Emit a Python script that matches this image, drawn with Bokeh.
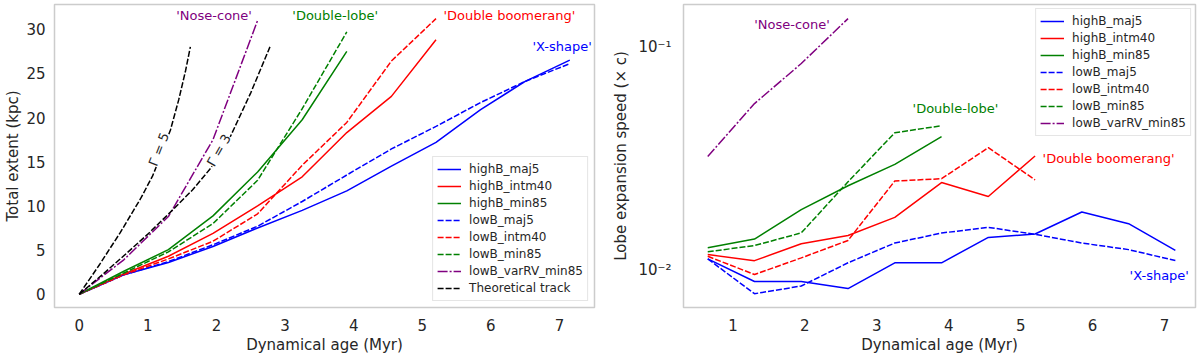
from bokeh.plotting import figure
from bokeh.layouts import row
from bokeh.models import Legend, LegendItem, FixedTicker, CustomJSTickFormatter, Range1d
from bokeh.core.properties import value
from bokeh.embed import file_html
from bokeh.resources import INLINE

# ---------------- data: left panel (total extent, kpc) ----------------
age = [0, 0.65, 1.3, 1.95, 2.6, 3.25, 3.9, 4.55, 5.2, 5.85, 6.5, 7.15]
ext_highB_maj5 = [0, 2.2, 3.6, 5.4, 7.5, 9.5, 11.7, 14.5, 17.2, 20.9, 24.1, 26.5]
ext_lowB_maj5 = [0, 2.2, 3.7, 5.6, 7.7, 10.5, 13.5, 16.45, 19.0, 21.7, 24.1, 26.1]
ext_highB_intm40 = [0, 2.3, 4.3, 6.9, 10.0, 13.3, 18.3, 22.4, 28.8]
ext_lowB_intm40 = [0, 2.2, 4.0, 6.0, 9.1, 14.6, 19.45, 26.4, 31.2]
ext_highB_min85 = [0, 2.6, 5.05, 8.87, 13.84, 19.75, 27.5]
ext_lowB_min85 = [0, 2.4, 4.8, 8.0, 12.9, 21.0, 29.7]
ext_lowB_varRV_min85 = [0, 3.9, 8.8, 17.5, 31.0]

track_g5_t = [0, 0.3, 0.6, 0.9, 1.07, 1.2, 1.33, 1.45, 1.55, 1.62]
track_g5_ext = [0, 3.4, 7.0, 10.9, 13.4, 15.9, 18.6, 22.0, 25.3, 28.0]
track_g3_t = [0, 0.35, 0.7, 1.0, 1.33, 1.65, 1.92, 2.2, 2.5, 2.78]
track_g3_ext = [0, 2.3, 4.7, 6.8, 9.3, 11.8, 14.3, 17.8, 22.8, 28.0]

# ---------------- data: right panel (lobe expansion speed, x c) ----------------
age_v = [0.65, 1.3, 1.95, 2.6, 3.25, 3.9, 4.55, 5.2, 5.85, 6.5, 7.15]
v_highB_maj5 = [0.01124, 0.0089, 0.0089, 0.00828, 0.0108, 0.0108, 0.01403, 0.01453, 0.01824, 0.01616, 0.01228]
v_lowB_maj5 = [0.01124, 0.00785, 0.0085, 0.0108, 0.01324, 0.01468, 0.01556, 0.01449, 0.01324, 0.01237, 0.01105]
v_highB_intm40 = [0.01175, 0.01104, 0.01315, 0.0143, 0.01726, 0.0247, 0.0214, 0.0325]
v_lowB_intm40 = [0.01155, 0.00957, 0.01136, 0.0136, 0.0251, 0.0257, 0.0354, 0.0254]
v_highB_min85 = [0.0126, 0.0138, 0.0187, 0.0239, 0.0298, 0.0397]
v_lowB_min85 = [0.0121, 0.0129, 0.0147, 0.0249, 0.0413, 0.0444]
v_lowB_varRV_min85 = [0.0323, 0.0558, 0.0843, 0.134]

labels = ["highB_maj5", "highB_intm40", "highB_min85", "lowB_maj5",
          "lowB_intm40", "lowB_min85", "lowB_varRV_min85"]
colors = ["blue", "red", "green", "blue", "red", "green", "purple"]
dashes = ["solid", "solid", "solid", "6 2", "6 2", "6 2", "10 2 2 2"]

FONT = "DejaVu Sans"
FRAME = "#cccccc"


def style(p, ystand):
    p.outline_line_color = FRAME
    p.outline_line_width = 1.5
    p.xgrid.visible = False
    p.ygrid.visible = False
    for ax in (p.xaxis[0], p.yaxis[0]):
        ax.axis_line_color = None
        ax.major_tick_line_color = None
        ax.minor_tick_line_color = None
        ax.major_tick_out = 0
        ax.major_tick_in = 0
        ax.major_label_text_font = FONT
        ax.major_label_text_font_size = "15px"
        ax.major_label_text_color = "#262626"
        ax.axis_label_text_font = FONT
        ax.axis_label_text_font_size = "15px"
        ax.axis_label_text_font_style = "normal"
        ax.axis_label_text_color = "#262626"
        ax.major_label_standoff = 11
        ax.axis_label_standoff = 2
    p.yaxis[0].major_label_standoff = ystand
    p.yaxis[0].axis_label_standoff = 1


def make_legend(items, loc, margin):
    lg = Legend(items=items, location=loc, margin=margin)
    lg.label_text_font = FONT
    lg.label_text_font_size = "12px"
    lg.label_text_color = "#262626"
    lg.label_height = 16
    lg.glyph_height = 16
    lg.glyph_width = 24
    lg.spacing = 1
    lg.padding = 4
    lg.label_standoff = 8
    lg.border_line_color = FRAME
    lg.border_line_width = 1
    lg.background_fill_color = "white"
    lg.background_fill_alpha = 0.85
    return lg


# ---------------- left panel ----------------
p1 = figure(width=600, height=358, output_backend="svg", toolbar_location=None,
            x_range=Range1d(-0.36, 7.51), y_range=Range1d(-1.5, 32.8),
            min_border_left=54, min_border_right=6, min_border_top=1, min_border_bottom=51)
style(p1, 9)
p1.xaxis.ticker = FixedTicker(ticks=[0, 1, 2, 3, 4, 5, 6, 7])
p1.yaxis.ticker = FixedTicker(ticks=[0, 5, 10, 15, 20, 25, 30])
p1.xaxis.axis_label = "Dynamical age (Myr)"
p1.yaxis.axis_label = "Total extent (kpc)"

ext_series = [ext_highB_maj5, ext_highB_intm40, ext_highB_min85, ext_lowB_maj5,
              ext_lowB_intm40, ext_lowB_min85, ext_lowB_varRV_min85]
rend1 = []
for lab, ys, c, d in zip(labels, ext_series, colors, dashes):
    r = p1.line(age[:len(ys)], ys, line_color=c, line_width=1.5, line_dash=d)
    rend1.append((lab, r))
r_g5 = p1.line(track_g5_t, track_g5_ext, line_color="black", line_width=1.5, line_dash="6 2")
r_g3 = p1.line(track_g3_t, track_g3_ext, line_color="black", line_width=1.5, line_dash="6 2")
rend1.append(("Theoretical track", r_g5))

p1.text(x=[1.161], y=[16.4], text=["Γ = 5"], angle=1.2, text_align="center",
        text_baseline="middle", text_font=value(FONT), text_font_size="13px",
        text_color="#262626", background_fill_color="white")
p1.text(x=[2.036], y=[16.3], text=["Γ = 3"], angle=1.05, text_align="center",
        text_baseline="middle", text_font=value(FONT), text_font_size="13px",
        text_color="#262626", background_fill_color="white")

ann1_x = [1.415, 3.106, 5.308, 6.606]
ann1_y = [31.6, 31.6, 31.6, 28.06]
ann_text = ["'Nose-cone'", "'Double-lobe'", "'Double boomerang'", "'X-shape'"]
ann_col = ["purple", "green", "red", "blue"]
p1.text(x=ann1_x, y=ann1_y, text=ann_text, text_color=ann_col, text_align="left",
        text_baseline="middle", text_font=value(FONT), text_font_size="13px")

p1.add_layout(make_legend([LegendItem(label=l, renderers=[r]) for l, r in rend1],
                          "bottom_right", 6), "center")

# ---------------- right panel ----------------
p2 = figure(width=600, height=358, output_backend="svg", toolbar_location=None,
            y_axis_type="log",
            x_range=Range1d(0.313, 7.43), y_range=Range1d(0.00681, 0.155),
            min_border_left=83, min_border_right=5, min_border_top=4, min_border_bottom=50)
style(p2, 12)
p2.xaxis.ticker = FixedTicker(ticks=[1, 2, 3, 4, 5, 6, 7])
p2.yaxis.ticker = FixedTicker(ticks=[0.01, 0.1], minor_ticks=[])
p2.yaxis.formatter = CustomJSTickFormatter(code="return tick < 0.05 ? '10\u207b\u00b2' : '10\u207b\u00b9';")
p2.xaxis.axis_label = "Dynamical age (Myr)"
p2.yaxis.axis_label = "Lobe expansion speed (× c)"
p2.yaxis[0].axis_label_standoff = 5

v_series = [v_highB_maj5, v_highB_intm40, v_highB_min85, v_lowB_maj5,
            v_lowB_intm40, v_lowB_min85, v_lowB_varRV_min85]
rend2 = []
for lab, ys, c, d in zip(labels, v_series, colors, dashes):
    r = p2.line(age_v[:len(ys)], ys, line_color=c, line_width=1.5, line_dash=d)
    rend2.append((lab, r))

ann2_x = [1.296, 3.497, 5.304, 6.514]
ann2_y = [0.126, 0.0528, 0.0316, 0.00946]
p2.text(x=ann2_x, y=ann2_y, text=ann_text, text_color=ann_col, text_align="left",
        text_baseline="middle", text_font=value(FONT), text_font_size="13px")

p2.add_layout(make_legend([LegendItem(label=l, renderers=[r]) for l, r in rend2],
                          "top_right", 4), "center")

layout = row(p1, p2)
open("out.html", "w").write(file_html(layout, INLINE))
